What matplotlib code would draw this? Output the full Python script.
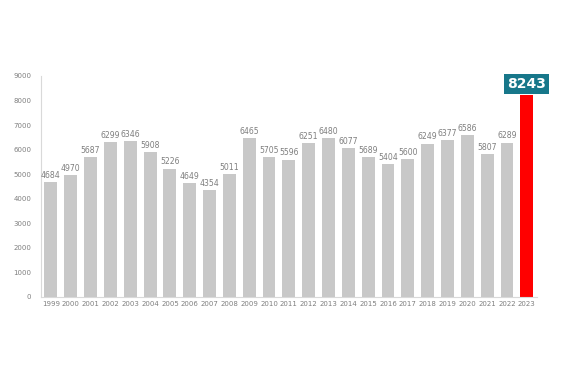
import matplotlib.pyplot as plt

years = [str(y) for y in range(1999, 2024)]
values = [4684, 4970, 5687, 6299, 6346, 5908, 5226, 4649, 4354, 5011,
          6465, 5705, 5596, 6251, 6480, 6077, 5689, 5404, 5600, 6249,
          6377, 6586, 5807, 6289, 8243]
yticks = list(range(0, 9001, 1000))

fig = plt.figure(figsize=(5.65, 3.79), dpi=100)
ax = fig.add_axes([0.0726, 0.2164, 0.8774, 0.5831])

x = range(len(years))
colors = ["#c8c8c8"] * (len(years) - 1) + ["#ff0000"]
ax.bar(x, values, width=0.65, color=colors)

for i, v in enumerate(values[:-1]):
    ax.text(i, v + 90, str(v), ha="center", va="bottom", fontsize=5.6, color="#7f7f7f")

ax.text(len(values) - 1, values[-1] + 140, str(values[-1]), ha="center", va="bottom",
        fontsize=10, fontweight="bold", color="white",
        bbox=dict(boxstyle="square,pad=0.22", facecolor="#17778a", edgecolor="none"))

ax.set_xlim(-0.5, len(years) - 0.5)
ax.set_ylim(0, 9000)
ax.set_xticks(list(x))
ax.set_xticklabels(years)
ax.set_yticks(yticks)
ax.tick_params(axis="both", length=0, labelsize=5, colors="#7f7f7f")
ax.tick_params(axis="y", pad=7)
ax.tick_params(axis="x", pad=3)

for s in ["top", "right"]:
    ax.spines[s].set_visible(False)
ax.spines["left"].set_color("#d9d9d9")
ax.spines["bottom"].set_color("#d9d9d9")

fig.savefig("out.png", dpi=100)
